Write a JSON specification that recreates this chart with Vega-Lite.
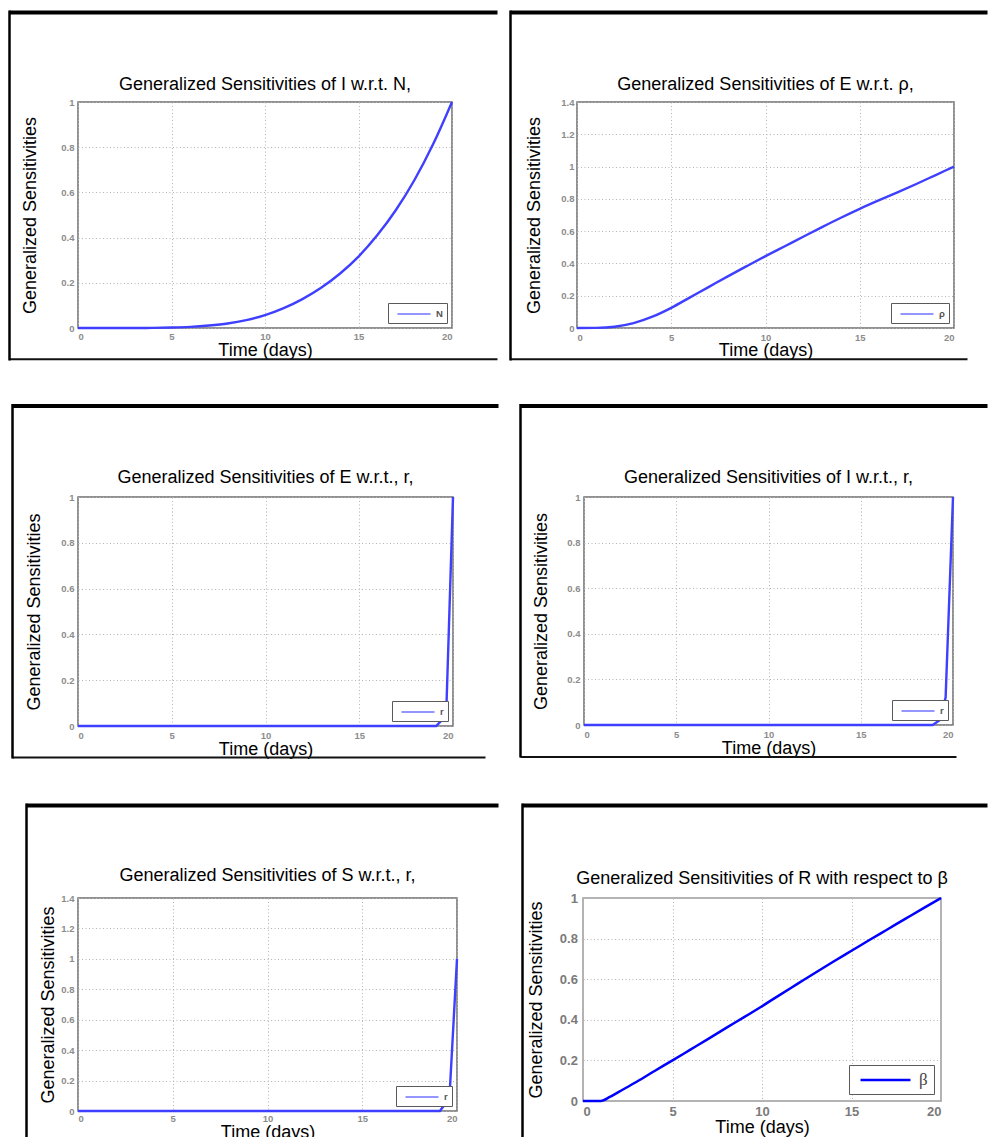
{
  "$schema": "https://vega.github.io/schema/vega-lite/v6.json",
  "background": "white",
  "padding": {"left": 8, "top": 9, "right": 0, "bottom": 0},
  "datasets": {
    "p1": [
      {"t": 0, "v": 0, "s": "N"}, {"t": 1, "v": 0, "s": "N"}, {"t": 2, "v": 0, "s": "N"}, {"t": 3, "v": 0, "s": "N"},
      {"t": 4, "v": 0.0005, "s": "N"}, {"t": 5, "v": 0.002, "s": "N"}, {"t": 6, "v": 0.005, "s": "N"}, {"t": 7, "v": 0.011, "s": "N"},
      {"t": 8, "v": 0.02, "s": "N"}, {"t": 9, "v": 0.035, "s": "N"}, {"t": 10, "v": 0.057, "s": "N"}, {"t": 11, "v": 0.088, "s": "N"},
      {"t": 12, "v": 0.128, "s": "N"}, {"t": 13, "v": 0.178, "s": "N"}, {"t": 14, "v": 0.24, "s": "N"}, {"t": 15, "v": 0.316, "s": "N"},
      {"t": 16, "v": 0.41, "s": "N"}, {"t": 17, "v": 0.522, "s": "N"}, {"t": 18, "v": 0.656, "s": "N"}, {"t": 19, "v": 0.815, "s": "N"},
      {"t": 20, "v": 1.0, "s": "N"}
    ],
    "p2": [
      {"t": 0, "v": 0, "s": "ρ"}, {"t": 1, "v": 0.001, "s": "ρ"}, {"t": 2, "v": 0.008, "s": "ρ"}, {"t": 3, "v": 0.03, "s": "ρ"},
      {"t": 4, "v": 0.07, "s": "ρ"}, {"t": 5, "v": 0.125, "s": "ρ"}, {"t": 6, "v": 0.19, "s": "ρ"}, {"t": 7, "v": 0.255, "s": "ρ"},
      {"t": 8, "v": 0.32, "s": "ρ"}, {"t": 9, "v": 0.383, "s": "ρ"}, {"t": 10, "v": 0.445, "s": "ρ"}, {"t": 11, "v": 0.505, "s": "ρ"},
      {"t": 12, "v": 0.565, "s": "ρ"}, {"t": 13, "v": 0.625, "s": "ρ"}, {"t": 14, "v": 0.683, "s": "ρ"}, {"t": 15, "v": 0.738, "s": "ρ"},
      {"t": 16, "v": 0.79, "s": "ρ"}, {"t": 17, "v": 0.84, "s": "ρ"}, {"t": 18, "v": 0.892, "s": "ρ"}, {"t": 19, "v": 0.946, "s": "ρ"},
      {"t": 20, "v": 1.0, "s": "ρ"}
    ],
    "p3": [
      {"t": 0, "v": 0, "s": "r"}, {"t": 19.1, "v": 0, "s": "r"}, {"t": 19.4, "v": 0.025, "s": "r"}, {"t": 19.65, "v": 0.085, "s": "r"}, {"t": 20, "v": 1.0, "s": "r"}
    ],
    "p4": [
      {"t": 0, "v": 0, "s": "r"}, {"t": 18.9, "v": 0, "s": "r"}, {"t": 19.25, "v": 0.02, "s": "r"}, {"t": 19.6, "v": 0.12, "s": "r"}, {"t": 20, "v": 1.0, "s": "r"}
    ],
    "p5": [
      {"t": 0, "v": 0, "s": "r"}, {"t": 19.1, "v": 0, "s": "r"}, {"t": 19.6, "v": 0.085, "s": "r"}, {"t": 20, "v": 1.0, "s": "r"}
    ],
    "p6": [
      {"t": 0, "v": 0, "s": "β"}, {"t": 1, "v": 0, "s": "β"}, {"t": 1.5, "v": 0.02, "s": "β"}, {"t": 2, "v": 0.045, "s": "β"},
      {"t": 3, "v": 0.095, "s": "β"}, {"t": 4, "v": 0.148, "s": "β"}, {"t": 5, "v": 0.2, "s": "β"}, {"t": 6, "v": 0.253, "s": "β"},
      {"t": 7, "v": 0.306, "s": "β"}, {"t": 8, "v": 0.36, "s": "β"}, {"t": 9, "v": 0.413, "s": "β"}, {"t": 10, "v": 0.467, "s": "β"},
      {"t": 11, "v": 0.523, "s": "β"}, {"t": 12, "v": 0.578, "s": "β"}, {"t": 13, "v": 0.633, "s": "β"}, {"t": 14, "v": 0.687, "s": "β"},
      {"t": 15, "v": 0.74, "s": "β"}, {"t": 16, "v": 0.793, "s": "β"}, {"t": 17, "v": 0.845, "s": "β"}, {"t": 18, "v": 0.897, "s": "β"},
      {"t": 19, "v": 0.949, "s": "β"}, {"t": 20, "v": 1.0, "s": "β"}
    ]
  },
  "columns": 1,
  "align": "none",
  "spacing": {"row": -51, "column": 0},
  "resolve": {"scale": {"color": "independent"}, "legend": {"color": "independent"}},
  "concat": [
    {
      "columns": 2,
      "align": "none",
      "spacing": {"row": 0, "column": -58},
      "resolve": {"scale": {"color": "independent"}, "legend": {"color": "independent"}},
      "concat": [
        {
          "width": 374, "height": 226,
          "data": {"name": "p1"},
          "title": {"text": "Generalized Sensitivities of I w.r.t. N,", "offset": -84.25},
          "resolve": {"scale": {"x": "independent", "y": "independent"}, "axis": {"x": "independent", "y": "independent"}},
          "layer": [
            {
              "mark": {"type": "line", "interpolate": "monotone", "strokeWidth": 2.4},
              "encoding": {
                "x": {"field": "t", "type": "quantitative", "scale": {"domain": [0, 20], "nice": false},
                      "axis": {"values": [0, 5, 10, 15, 20], "title": "Time (days)", "titlePadding": 0, "labelPadding": 3.5}},
                "y": {"field": "v", "type": "quantitative", "scale": {"domain": [0, 1], "nice": false},
                      "axis": {"values": [0, 0.2, 0.4, 0.6, 0.8, 1], "format": "~g", "title": "Generalized Sensitivities", "titlePadding": 21, "labelPadding": 4}},
                "color": {"field": "s", "type": "nominal", "scale": {"range": ["#3f3fff"]},
                          "legend": {"title": null, "orient": "bottom-right", "offset": 5}}
              }
            },
            {
              "mark": {"type": "line", "strokeOpacity": 0},
              "encoding": {
                "x": {"field": "t", "type": "quantitative", "scale": {"domain": [0, 20], "nice": false, "range": [-69, 419]},
                      "axis": {"orient": "top", "offset": 90, "domain": true, "domainColor": "#000000", "domainWidth": 4, "domainCap": "butt", "labels": false, "ticks": false, "grid": false, "title": null}},
                "y": {"field": "v", "type": "quantitative", "scale": {"domain": [0, 1], "nice": false, "range": [258, -92]},
                      "axis": {"orient": "left", "offset": 69, "domain": true, "domainColor": "#000000", "domainWidth": 2.5, "domainCap": "butt", "labels": false, "ticks": false, "grid": false, "title": null}}
              }
            },
            {
              "mark": {"type": "line", "strokeOpacity": 0},
              "encoding": {
                "x": {"field": "t", "type": "quantitative", "scale": {"domain": [0, 20], "nice": false, "range": [-69, 419]},
                      "axis": {"orient": "bottom", "offset": 30.7, "domain": true, "domainColor": "#111111", "domainWidth": 2, "domainCap": "butt", "labels": false, "ticks": false, "grid": false, "title": null}},
                "y": {"field": "v", "type": "quantitative", "scale": {"domain": [0, 1], "nice": false}, "axis": null}
              }
            }
          ]
        },
        {
          "width": 377, "height": 226,
          "data": {"name": "p2"},
          "title": {"text": "Generalized Sensitivities of E w.r.t. ρ,", "offset": -84.25},
          "resolve": {"scale": {"x": "independent", "y": "independent"}, "axis": {"x": "independent", "y": "independent"}},
          "layer": [
            {
              "mark": {"type": "line", "interpolate": "monotone", "strokeWidth": 2.4},
              "encoding": {
                "x": {"field": "t", "type": "quantitative", "scale": {"domain": [0, 20], "nice": false},
                      "axis": {"values": [0, 5, 10, 15, 20], "title": "Time (days)", "titlePadding": 0, "labelPadding": 4.3}},
                "y": {"field": "v", "type": "quantitative", "scale": {"domain": [0, 1.4], "nice": false},
                      "axis": {"values": [0, 0.2, 0.4, 0.6, 0.8, 1, 1.2, 1.4], "format": "~g", "title": "Generalized Sensitivities", "titlePadding": 17.7, "labelPadding": 3}},
                "color": {"field": "s", "type": "nominal", "scale": {"range": ["#3f3fff"]},
                          "legend": {"title": null, "orient": "bottom-right", "offset": 5}}
              }
            },
            {
              "mark": {"type": "line", "strokeOpacity": 0},
              "encoding": {
                "x": {"field": "t", "type": "quantitative", "scale": {"domain": [0, 20], "nice": false, "range": [-67, 410]},
                      "axis": {"orient": "top", "offset": 90, "domain": true, "domainColor": "#000000", "domainWidth": 4, "domainCap": "butt", "labels": false, "ticks": false, "grid": false, "title": null}},
                "y": {"field": "v", "type": "quantitative", "scale": {"domain": [0, 1], "nice": false, "range": [258, -92]},
                      "axis": {"orient": "left", "offset": 67, "domain": true, "domainColor": "#000000", "domainWidth": 2.5, "domainCap": "butt", "labels": false, "ticks": false, "grid": false, "title": null}}
              }
            },
            {
              "mark": {"type": "line", "strokeOpacity": 0},
              "encoding": {
                "x": {"field": "t", "type": "quantitative", "scale": {"domain": [0, 20], "nice": false, "range": [-67, 390]},
                      "axis": {"orient": "bottom", "offset": 30.7, "domain": true, "domainColor": "#111111", "domainWidth": 2, "domainCap": "butt", "labels": false, "ticks": false, "grid": false, "title": null}},
                "y": {"field": "v", "type": "quantitative", "scale": {"domain": [0, 1], "nice": false}, "axis": null}
              }
            }
          ]
        }
      ]
    },
    {
      "columns": 2,
      "align": "none",
      "spacing": {"row": 0, "column": -46},
      "resolve": {"scale": {"color": "independent"}, "legend": {"color": "independent"}},
      "concat": [
        {
          "width": 375, "height": 229,
          "data": {"name": "p3"},
          "title": {"text": "Generalized Sensitivities of E w.r.t., r,", "offset": -83.05},
          "resolve": {"scale": {"x": "independent", "y": "independent"}, "axis": {"x": "independent", "y": "independent"}},
          "layer": [
            {
              "mark": {"type": "line", "strokeWidth": 2.4},
              "encoding": {
                "x": {"field": "t", "type": "quantitative", "scale": {"domain": [0, 20], "nice": false},
                      "axis": {"values": [0, 5, 10, 15, 20], "title": "Time (days)", "titlePadding": 0, "labelPadding": 4.8}},
                "y": {"field": "v", "type": "quantitative", "scale": {"domain": [0, 1], "nice": false},
                      "axis": {"values": [0, 0.2, 0.4, 0.6, 0.8, 1], "format": "~g", "title": "Generalized Sensitivities", "titlePadding": 17.7, "labelPadding": 4}},
                "color": {"field": "s", "type": "nominal", "scale": {"range": ["#3f3fff"]},
                          "legend": {"title": null, "orient": "bottom-right", "offset": 5}}
              }
            },
            {
              "mark": {"type": "line", "strokeOpacity": 0},
              "encoding": {
                "x": {"field": "t", "type": "quantitative", "scale": {"domain": [0, 20], "nice": false, "range": [-66, 420]},
                      "axis": {"orient": "top", "offset": 91.5, "domain": true, "domainColor": "#000000", "domainWidth": 4, "domainCap": "butt", "labels": false, "ticks": false, "grid": false, "title": null}},
                "y": {"field": "v", "type": "quantitative", "scale": {"domain": [0, 1], "nice": false, "range": [261, -93.5]},
                      "axis": {"orient": "left", "offset": 66, "domain": true, "domainColor": "#000000", "domainWidth": 2.5, "domainCap": "butt", "labels": false, "ticks": false, "grid": false, "title": null}}
              }
            },
            {
              "mark": {"type": "line", "strokeOpacity": 0},
              "encoding": {
                "x": {"field": "t", "type": "quantitative", "scale": {"domain": [0, 20], "nice": false, "range": [-66, 407]},
                      "axis": {"orient": "bottom", "offset": 31, "domain": true, "domainColor": "#111111", "domainWidth": 2, "domainCap": "butt", "labels": false, "ticks": false, "grid": false, "title": null}},
                "y": {"field": "v", "type": "quantitative", "scale": {"domain": [0, 1], "nice": false}, "axis": null}
              }
            }
          ]
        },
        {
          "width": 369, "height": 228,
          "data": {"name": "p4"},
          "title": {"text": "Generalized Sensitivities of I w.r.t., r,", "offset": -83.05},
          "resolve": {"scale": {"x": "independent", "y": "independent"}, "axis": {"x": "independent", "y": "independent"}},
          "layer": [
            {
              "mark": {"type": "line", "strokeWidth": 2.4},
              "encoding": {
                "x": {"field": "t", "type": "quantitative", "scale": {"domain": [0, 20], "nice": false},
                      "axis": {"values": [0, 5, 10, 15, 20], "title": "Time (days)", "titlePadding": 0, "labelPadding": 4.5}},
                "y": {"field": "v", "type": "quantitative", "scale": {"domain": [0, 1], "nice": false},
                      "axis": {"values": [0, 0.2, 0.4, 0.6, 0.8, 1], "format": "~g", "title": "Generalized Sensitivities", "titlePadding": 16.3, "labelPadding": 4}},
                "color": {"field": "s", "type": "nominal", "scale": {"range": ["#3f3fff"]},
                          "legend": {"title": null, "orient": "bottom-right", "offset": 5}}
              }
            },
            {
              "mark": {"type": "line", "strokeOpacity": 0},
              "encoding": {
                "x": {"field": "t", "type": "quantitative", "scale": {"domain": [0, 20], "nice": false, "range": [-64, 403]},
                      "axis": {"orient": "top", "offset": 91.5, "domain": true, "domainColor": "#000000", "domainWidth": 4, "domainCap": "butt", "labels": false, "ticks": false, "grid": false, "title": null}},
                "y": {"field": "v", "type": "quantitative", "scale": {"domain": [0, 1], "nice": false, "range": [260, -93.5]},
                      "axis": {"orient": "left", "offset": 64, "domain": true, "domainColor": "#000000", "domainWidth": 2.5, "domainCap": "butt", "labels": false, "ticks": false, "grid": false, "title": null}}
              }
            },
            {
              "mark": {"type": "line", "strokeOpacity": 0},
              "encoding": {
                "x": {"field": "t", "type": "quantitative", "scale": {"domain": [0, 20], "nice": false, "range": [-64, 372]},
                      "axis": {"orient": "bottom", "offset": 31.5, "domain": true, "domainColor": "#111111", "domainWidth": 2, "domainCap": "butt", "labels": false, "ticks": false, "grid": false, "title": null}},
                "y": {"field": "v", "type": "quantitative", "scale": {"domain": [0, 1], "nice": false}, "axis": null}
              }
            }
          ]
        }
      ]
    },
    {
      "columns": 2,
      "align": "none",
      "spacing": {"row": 0, "column": -30},
      "resolve": {"scale": {"color": "independent"}, "legend": {"color": "independent"}},
      "concat": [
        {
          "width": 379, "height": 213,
          "data": {"name": "p5"},
          "title": {"text": "Generalized Sensitivities of S w.r.t., r,", "offset": -82.45},
          "resolve": {"scale": {"x": "independent", "y": "independent"}, "axis": {"x": "independent", "y": "independent"}},
          "layer": [
            {
              "mark": {"type": "line", "strokeWidth": 2.4},
              "encoding": {
                "x": {"field": "t", "type": "quantitative", "scale": {"domain": [0, 20], "nice": false},
                      "axis": {"values": [0, 5, 10, 15, 20], "title": "Time (days)", "titlePadding": 0, "labelPadding": 2.5}},
                "y": {"field": "v", "type": "quantitative", "scale": {"domain": [0, 1.4], "nice": false},
                      "axis": {"values": [0, 0.2, 0.4, 0.6, 0.8, 1, 1.2, 1.4], "format": "~g", "title": "Generalized Sensitivities", "titlePadding": 3, "labelPadding": 4}},
                "color": {"field": "s", "type": "nominal", "scale": {"range": ["#3f3fff"]},
                          "legend": {"title": null, "orient": "bottom-right", "offset": 5}}
              }
            },
            {
              "mark": {"type": "line", "strokeOpacity": 0},
              "encoding": {
                "x": {"field": "t", "type": "quantitative", "scale": {"domain": [0, 20], "nice": false, "range": [-52, 420]},
                      "axis": {"orient": "top", "offset": 93, "domain": true, "domainColor": "#000000", "domainWidth": 4, "domainCap": "butt", "labels": false, "ticks": false, "grid": false, "title": null}},
                "y": {"field": "v", "type": "quantitative", "scale": {"domain": [0, 1], "nice": false, "range": [250, -95]},
                      "axis": {"orient": "left", "offset": 52, "domain": true, "domainColor": "#000000", "domainWidth": 2.5, "domainCap": "butt", "labels": false, "ticks": false, "grid": false, "title": null}}
              }
            }
          ]
        },
        {
          "width": 358, "height": 203,
          "data": {"name": "p6"},
          "view": {"stroke": "#9a9a9a", "strokeWidth": 1.5},
          "title": {"text": "Generalized Sensitivities of R with respect to β", "offset": -84.75},
          "resolve": {"scale": {"x": "independent", "y": "independent"}, "axis": {"x": "independent", "y": "independent"}},
          "layer": [
            {
              "mark": {"type": "line", "interpolate": "monotone", "strokeWidth": 2.5},
              "encoding": {
                "x": {"field": "t", "type": "quantitative", "scale": {"domain": [0, 20], "nice": false},
                      "axis": {"values": [0, 5, 10, 15, 20], "title": "Time (days)", "titlePadding": 0, "labelPadding": 4.5, "labelFontSize": 13, "labelColor": "#7a7a7a"}},
                "y": {"field": "v", "type": "quantitative", "scale": {"domain": [0, 1], "nice": false},
                      "axis": {"values": [0, 0.2, 0.4, 0.6, 0.8, 1], "format": "~g", "title": "Generalized Sensitivities", "titlePadding": 14, "labelPadding": 5.6, "labelFontSize": 13, "labelColor": "#7a7a7a"}},
                "color": {"field": "s", "type": "nominal", "scale": {"range": ["#0000ff"]},
                          "legend": {"title": null, "orient": "bottom-right", "offset": 7, "symbolType": "M-3.33,0H3.33", "symbolSize": 225, "symbolOffset": 21.5, "symbolStrokeWidth": 2.5, "symbolOpacity": 1, "labelOffset": 24.5, "padding": 6, "labelFont": "Liberation Serif", "labelFontSize": 17, "labelFontWeight": "normal", "labelColor": "#444444"}}
              }
            },
            {
              "mark": {"type": "line", "strokeOpacity": 0},
              "encoding": {
                "x": {"field": "t", "type": "quantitative", "scale": {"domain": [0, 20], "nice": false, "range": [-61, 404]},
                      "axis": {"orient": "top", "offset": 93, "domain": true, "domainColor": "#000000", "domainWidth": 4, "domainCap": "butt", "labels": false, "ticks": false, "grid": false, "title": null}},
                "y": {"field": "v", "type": "quantitative", "scale": {"domain": [0, 1], "nice": false, "range": [250, -95]},
                      "axis": {"orient": "left", "offset": 61, "domain": true, "domainColor": "#000000", "domainWidth": 2.5, "domainCap": "butt", "labels": false, "ticks": false, "grid": false, "title": null}}
              }
            }
          ]
        }
      ]
    }
  ],
  "config": {
    "font": "Liberation Sans",
    "view": {"stroke": "#6e6e6e", "strokeWidth": 1.5},
    "title": {"font": "Liberation Sans", "fontSize": 18, "fontWeight": "normal", "anchor": "middle", "frame": "group", "baseline": "alphabetic", "color": "#000000"},
    "axis": {
      "domain": false, "ticks": false, "tickSize": 0, "grid": true,
      "gridColor": "#b4b4b4", "gridDash": [1, 2.5], "gridWidth": 1,
      "labelColor": "#8c8c8c", "labelFontSize": 9.5, "labelFontWeight": "bold", "labelFont": "Liberation Sans",
      "titleFont": "Liberation Sans", "titleFontSize": 18, "titleFontWeight": "normal", "titleColor": "#000000"
    },
    "legend": {
      "symbolType": "M-3,0H3", "symbolSize": 121, "symbolOffset": 15, "symbolStrokeWidth": 2.2, "symbolOpacity": 0.55,
      "strokeColor": "#5a5a5a", "fillColor": "white",
      "padding": 4, "labelFontSize": 9.5, "labelFontWeight": "bold", "labelColor": "#555555", "labelOffset": 15, "cornerRadius": 0
    }
  }
}
